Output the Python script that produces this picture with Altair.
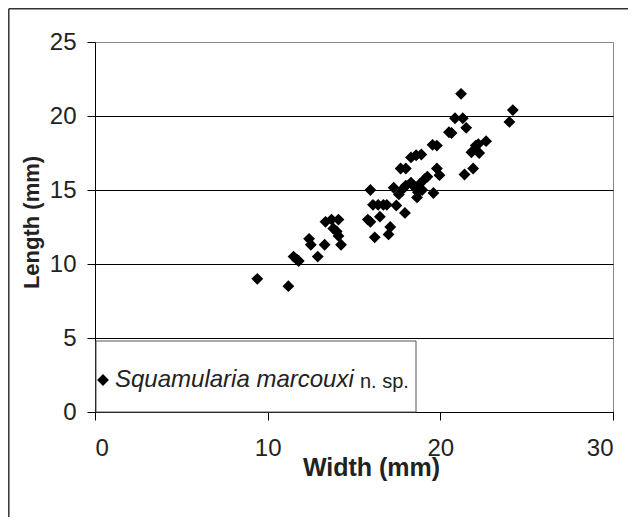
import altair as alt
import pandas as pd

# Data
width_mm = [9.4, 11.2, 11.5, 11.7, 11.8, 12.4, 12.5, 12.9, 13.3, 13.35, 13.7, 14.1, 13.8, 14.0, 14.1, 14.25,
            15.95, 15.8, 15.95, 16.2, 16.1, 16.4, 16.7, 16.9, 16.5, 17.1, 17.0, 17.3, 17.45, 17.6,
            17.7, 18.0, 17.95, 17.85, 18.0, 18.3, 18.5, 18.3, 18.6, 18.9, 18.8, 18.7, 18.65, 19.1,
            19.25, 19.55, 19.8, 19.6, 19.8, 19.95, 20.5, 20.65, 20.85, 21.2, 21.3, 21.5, 21.4, 21.9,
            21.8, 22.05, 22.25, 22.2, 22.65, 24.0, 24.2, 18.95]
length_mm = [9.0, 8.5, 10.5, 10.3, 10.2, 11.7, 11.3, 10.5, 11.3, 12.85, 13.0, 13.0, 12.4, 12.2, 11.9, 11.3,
             15.0, 13.0, 12.85, 11.8, 14.0, 14.0, 14.0, 14.0, 13.2, 12.5, 12.0, 15.15, 13.95, 14.7,
             16.45, 16.45, 13.45, 15.1, 15.3, 15.5, 15.2, 17.2, 17.35, 17.4, 15.4, 14.85, 14.5, 15.75,
             15.9, 18.05, 18.0, 14.8, 16.45, 16.0, 18.9, 18.85, 19.85, 21.5, 19.85, 19.2, 16.05, 16.45,
             17.55, 18.0, 17.5, 18.1, 18.3, 19.6, 20.4, 15.0]
series_name = "Squamularia marcouxi"
series_suffix = ["n. sp."]
x_ticks = [0, 10, 20, 30]
y_ticks = [0, 5, 10, 15, 20, 25]

FONT = "Liberation Sans"
W, H = 518, 370

df = pd.DataFrame({"width": width_mm, "length": length_mm, "species": [series_name] * len(width_mm)})
one = pd.DataFrame({"t": series_suffix})

# legend box
box = alt.Chart(one).mark_rect(fill="white", stroke="#555555", strokeWidth=1).encode(
    x=alt.value(1), x2=alt.value(321), y=alt.value(299), y2=alt.value(370)
)

points = alt.Chart(df).mark_point(shape="diamond", filled=True, size=140, opacity=1).encode(
    x=alt.X("width:Q", scale=alt.Scale(domain=[0, 30], nice=False),
            axis=alt.Axis(values=x_ticks, grid=False, tickSize=8, tickColor="black",
                          domainColor="black", labelFontSize=24, labelFont=FONT, labelColor="#222222",
                          labelPadding=16, title="Width (mm)", titleFont=FONT, titleFontSize=25,
                          titleFontWeight="bold", titleColor="#222222", titleX=276, titleY=63,
                          titleAlign="center", titleBaseline="alphabetic")),
    y=alt.Y("length:Q", scale=alt.Scale(domain=[0, 25], nice=False),
            axis=alt.Axis(values=y_ticks, grid=True,
                          gridColor=alt.condition("datum.value == 25", alt.value("#888888"), alt.value("#000000")),
                          gridWidth=1, tickSize=8, tickColor="black", domainColor="black",
                          labelFontSize=24, labelFont=FONT, labelColor="#222222", labelPadding=11,
                          title="Length (mm)", titleFont=FONT, titleFontSize=22, titleFontWeight="bold",
                          titleColor="#222222", titleAngle=-90, titleX=-57, titleY=180,
                          titleAlign="center", titleBaseline="alphabetic")),
    color=alt.Color("species:N", scale=alt.Scale(range=["#000000"]), title=None,
                    legend=alt.Legend(orient="none", legendX=-4, legendY=326, padding=0,
                                      symbolType="diamond", symbolSize=140, symbolFillColor="#000000",
                                      symbolStrokeWidth=0, symbolOpacity=1, labelOffset=0,
                                      labelFont=FONT, labelFontSize=24, labelFontStyle="italic",
                                      labelColor="#222222", labelLimit=400)),
)

suffix = alt.Chart(one).mark_text(align="left", baseline="alphabetic", font=FONT, fontSize=20,
                                  color="#222222").encode(
    x=alt.value(265), y=alt.value(345.5), text="t:N"
)

frame_left = alt.Chart(one).mark_rule(color="#333333", strokeWidth=1.5).encode(
    x=alt.value(-86.2), y=alt.value(-33.2), y2=alt.value(480)
)
frame_top = alt.Chart(one).mark_rule(color="#333333", strokeWidth=1.5).encode(
    x=alt.value(-86.2), x2=alt.value(540), y=alt.value(-33.2)
)

chart = alt.layer(box, points, suffix, frame_left, frame_top).properties(
    width=W, height=H,
    autosize=alt.AutoSizeParams(type="none"),
    padding={"left": 87, "top": 34, "right": 15, "bottom": 105},
).configure_view(stroke="#888888", strokeWidth=1)

chart.save("out.html", embed_options={"renderer": "svg", "actions": False})
